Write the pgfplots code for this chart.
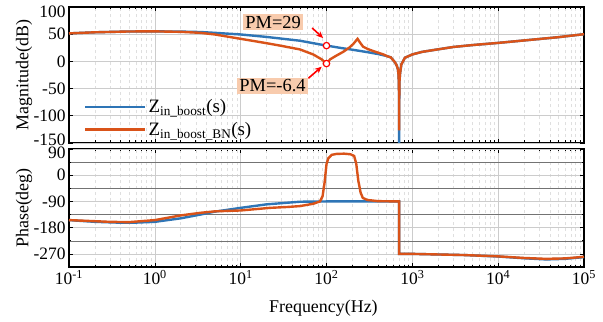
\documentclass[border=0pt]{standalone}
\usepackage{pgfplots}
\pgfplotsset{compat=1.18}
\usetikzlibrary{arrows.meta}
\usepackage{fontspec}
\setmainfont{Liberation Serif}
\definecolor{mblue}{HTML}{2E75B6}
\definecolor{morange}{HTML}{D95319}
\definecolor{peach}{HTML}{F8CBAD}
\pgfplotsset{legend image code/.code={\draw[#1] (0bp,0bp) -- (60bp,0bp);}}

\begin{document}
\begin{tikzpicture}
\path[use as bounding box] (0bp,0bp) rectangle (603bp,322bp);
% ---------------- magnitude ----------------
\begin{semilogxaxis}[at={(69bp,179bp)}, anchor=south west,
  scale only axis, width=515bp, height=136bp,
  xmin=0.1, xmax=100000,
  xtick={0.1,1,10,100,1000,10000,100000}, xticklabels={},
  grid=both,
  major grid style={gray!40, line width=0.6bp},
  minor grid style={gray!25, dashed, line width=0.4bp},
  axis line style={line width=1.1bp},
  tick style={black, line width=0.6bp},
  major tick length=4bp, minor tick length=2.5bp,
  tick align=inside,
  ticklabel style={font=\fontsize{17.5}{17.5}\selectfont, inner ysep=0.5bp},
  label style={font=\fontsize{18}{18}\selectfont},
  ymin=-150, ymax=100, ytick={-100,-50,0,50,100},
  yticklabels={-100,-50,0,50,100\rule{0pt}{21bp}},
  extra y ticks={-150}, extra y tick labels={-150},
  extra y tick style={yticklabel style={yshift=3.5bp}},
  ylabel={Magnitude(dB)},
  ylabel style={at={(axis description cs:-0.087,0.5)}, anchor=center},
  legend style={at={(axis description cs:0.0,0.0)}, anchor=south west,
    xshift=12bp, yshift=2bp,
    draw=none, fill=none, font=\fontsize{19}{21}\selectfont,
    cells={anchor=west}, row sep=4bp,
    /tikz/every even column/.append style={column sep=7bp}},
]
\addplot[mblue, line width=2.4bp] coordinates {
(0.1,51.5) (0.2,53.5) (0.5,55) (1,55.2) (2,54.8) (3.4,54) (5,52.5) (10,49.5)
(20,45) (49,38) (100,29) (110,28) (150,24.5) (200,21.5) (300,17) (400,13.5) (500,10)
(560,7.5) (600,2) (630,-2) (660,-8) (680,-15) (690,-24) (697,-40) (701,-75) (702,-150)
(706,-40) (720,-22) (745,-5.5) (820,6.7) (1000,12.8) (1300,17.5) (1630,20)
(3000,26.5) (5000,30) (10000,34) (20000,38.5) (50000,44.5) (100000,50)
};
\addlegendentry{Z\textsubscript{in\_boost}(s)}
\addplot[morange, line width=2.4bp] coordinates {
(0.1,51.5) (0.2,53.5) (0.5,55) (1,55.2) (2,54.3) (3.4,52.5) (5,49.5) (10,41.5)
(20,33.5) (30,28.5) (49,22) (70,12.8) (88,3.7) (95,-1) (100,-4) (105,-0.5)
(110,3.7) (130,10.5) (157,17.7) (185,25.5) (205,32) (230,41.5) (245,35) (267,27)
(300,23) (350,19) (400,16) (460,12.8) (520,9) (560,7.5) (600,2) (630,-2) (660,-8)
(680,-15) (690,-24) (697,-40) (701,-80) (702,-127)
(706,-40) (720,-22) (745,-5.5) (820,6.7) (1000,12.8) (1300,17.5) (1630,20)
(3000,26.5) (5000,30) (10000,34) (20000,38.5) (50000,44.5) (100000,50)
};
\addlegendentry{Z\textsubscript{in\_boost\_BN}(s)}
\node[fill=peach, inner sep=2bp, font=\fontsize{18.5}{18.5}\selectfont] at (axis cs:23.9,72.4) {PM=29};
\node[fill=peach, inner sep=2bp, font=\fontsize{18.5}{18.5}\selectfont] at (axis cs:23.5,-45.2) {PM=-6.4};
\draw[red, line width=1.6bp, -{Stealth[length=7bp,width=6bp]}] (axis cs:68,61.4) -- (axis cs:91.5,43);
\draw[red, line width=1.6bp, -{Stealth[length=7bp,width=6bp]}] (axis cs:61.5,-31) -- (axis cs:88,-9.7);
\addplot[only marks, mark=*, line width=1.2bp, mark size=3.2bp,
  mark options={draw=red, fill=white}, forget plot] coordinates {(100,29) (100,-4)};
\end{semilogxaxis}
% ---------------- phase ----------------
\begin{semilogxaxis}[at={(69bp,55bp)}, anchor=south west,
  scale only axis, width=515bp, height=118bp,
  xmin=0.1, xmax=100000,
  xtick={0.1,1,10,100,1000,10000,100000},
  xticklabels={10\textsuperscript{-1},10\textsuperscript{0},10\textsuperscript{1},10\textsuperscript{2},10\textsuperscript{3},10\textsuperscript{4},10\textsuperscript{5}},
  grid=both,
  major grid style={gray!40, line width=0.6bp},
  minor grid style={gray!25, dashed, line width=0.4bp},
  every minor y grid/.style={black!55, densely dotted, line width=0.5bp, solid},
  axis line style={line width=1.1bp},
  tick style={black, line width=0.6bp},
  major tick length=4bp, minor tick length=2.5bp,
  tick align=inside,
  ticklabel style={font=\fontsize{17.5}{17.5}\selectfont},
  yticklabel style={inner ysep=0.5bp},
  label style={font=\fontsize{18}{18}\selectfont},
  ymin=-315, ymax=90, ytick={-270,-180,-90,0},
  yticklabels={-270,-180,-90,0},
  extra y ticks={90}, extra y tick labels={90},
  extra y tick style={yticklabel style={yshift=-3.5bp}},
  minor ytick={-315,-225,-135,-45,45},
  ylabel={Phase(deg)},
  ylabel style={at={(axis description cs:-0.087,0.5)}, anchor=center},
  xlabel={Frequency(Hz)},
  xlabel style={at={(axis description cs:0.494,-0.35)}, anchor=center},
]
\addplot[mblue, line width=2.4bp] coordinates {
(0.1,-154) (0.2,-160) (0.4,-163) (0.56,-163) (1,-160) (2,-148) (3.4,-135)
(5,-125) (10,-112) (20,-100) (49,-91) (100,-90) (701.9,-90) (702,-270)
(1000,-270) (4000,-274) (10000,-279) (20000,-285) (36000,-289) (60000,-287) (100000,-281)
};
\addplot[morange, line width=2.4bp] coordinates {
(0.1,-154) (0.3,-160) (0.5,-161) (1,-154) (2,-138) (3.4,-129) (5,-124) (10,-121)
(22,-112) (35,-109) (49,-106) (70,-98) (84,-90) (90,-72) (95,-25) (100,38)
(105,58) (115,70) (130,73) (160,74) (190,72) (210,66) (222,40) (235,-20) (250,-60)
(265,-78) (300,-85) (400,-89) (701.9,-90) (702,-270)
(1000,-270) (4000,-274) (10000,-278.5) (20000,-284) (36000,-287) (60000,-285.5) (100000,-280)
};
\end{semilogxaxis}
\end{tikzpicture}
\end{document}
